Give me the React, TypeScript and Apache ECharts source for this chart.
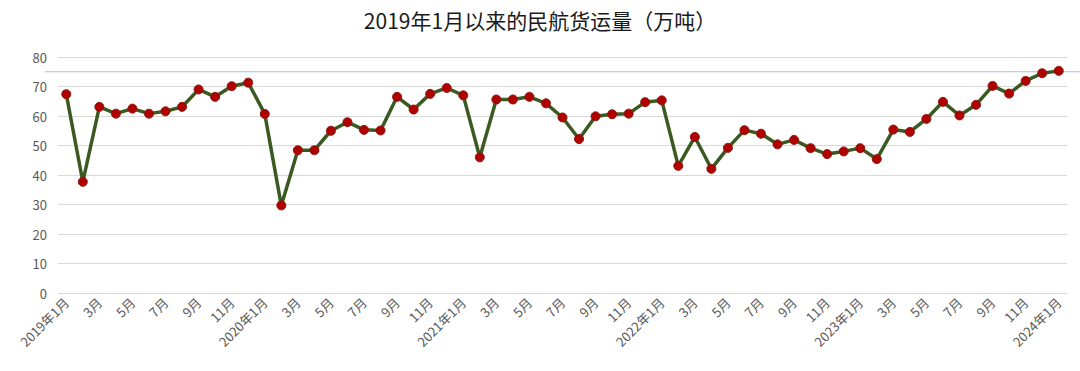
import React, { useEffect, useRef } from "react";
import * as echarts from "echarts";

const TITLE = "2019年1月以来的民航货运量（万吨）";

const years = [2019, 2020, 2021, 2022, 2023, 2024];

const months: string[] = [];
years.forEach((y) => {
  for (let m = 1; m <= 12; m++) {
    if (y === 2024 && m > 1) break;
    months.push(m === 1 ? `${y}年1月` : `${m}月`);
  }
});

const cargo = [
  67.4, 37.7, 63.1, 60.8, 62.5, 60.8, 61.6, 63.1, 69.0, 66.5, 70.1, 71.3,
  60.7, 29.7, 48.4, 48.4, 55.0, 57.9, 55.3, 55.1, 66.5, 62.2, 67.5, 69.5,
  67.0, 46.0, 65.6, 65.6, 66.5, 64.3, 59.5, 52.2, 59.9, 60.6, 60.8, 64.7,
  65.3, 43.1, 52.9, 42.1, 49.2, 55.2, 54.0, 50.4, 51.9, 49.1, 47.1, 48.0,
  49.1, 45.4, 55.4, 54.6, 59.0, 64.8, 60.2, 63.8, 70.2, 67.6, 71.9, 74.5,
  75.3,
];

const referenceLevel = 75;

const FONT = "'Noto Sans CJK SC', 'Noto Sans', sans-serif";

export default function App() {
  const ref = useRef<HTMLDivElement>(null);

  useEffect(() => {
    if (!ref.current) return;
    const chart = echarts.init(ref.current, undefined, { renderer: "svg" });
    chart.setOption({
      animation: false,
      backgroundColor: "#ffffff",
      title: {
        text: TITLE,
        left: "center",
        top: 4,
        textStyle: {
          fontFamily: FONT,
          fontSize: 21,
          fontWeight: "normal",
          color: "#1a1a1a",
        },
      },
      grid: { left: 58, right: 13, top: 57, bottom: 78 },
      xAxis: {
        type: "category",
        data: months,
        boundaryGap: true,
        axisLine: { show: false },
        axisTick: { show: false },
        axisLabel: {
          interval: 1,
          rotate: 45,
          margin: 7,
          fontFamily: FONT,
          fontSize: 13,
          color: "#595959",
        },
      },
      yAxis: {
        type: "value",
        min: 0,
        max: 80,
        interval: 10,
        axisLine: { show: false },
        axisTick: { show: false },
        axisLabel: {
          margin: 11,
          fontFamily: FONT,
          fontSize: 13,
          color: "#595959",
        },
        splitLine: { lineStyle: { color: "#d9d9d9", width: 1 } },
      },
      series: [
        {
          type: "line",
          data: cargo,
          symbol: "circle",
          symbolSize: 9,
          lineStyle: { color: "#3b5a22", width: 3.5 },
          itemStyle: { color: "#b00000", borderColor: "#8a1a10", borderWidth: 1 },
          z: 3,
        },
      ],
    });
    const yPix = chart.convertToPixel({ yAxisIndex: 0 }, referenceLevel) as number;
    chart.setOption({
      graphic: [
        {
          type: "line",
          shape: { x1: 45, y1: yPix, x2: 1080, y2: yPix },
          style: { stroke: "#9cc2e5", lineWidth: 1.2 },
          z: 1,
        },
      ],
    });
    return () => chart.dispose();
  }, []);

  return (
    <div
      ref={ref}
      style={{ position: "fixed", left: 0, top: 0, width: 1080, height: 371 }}
    />
  );
}
